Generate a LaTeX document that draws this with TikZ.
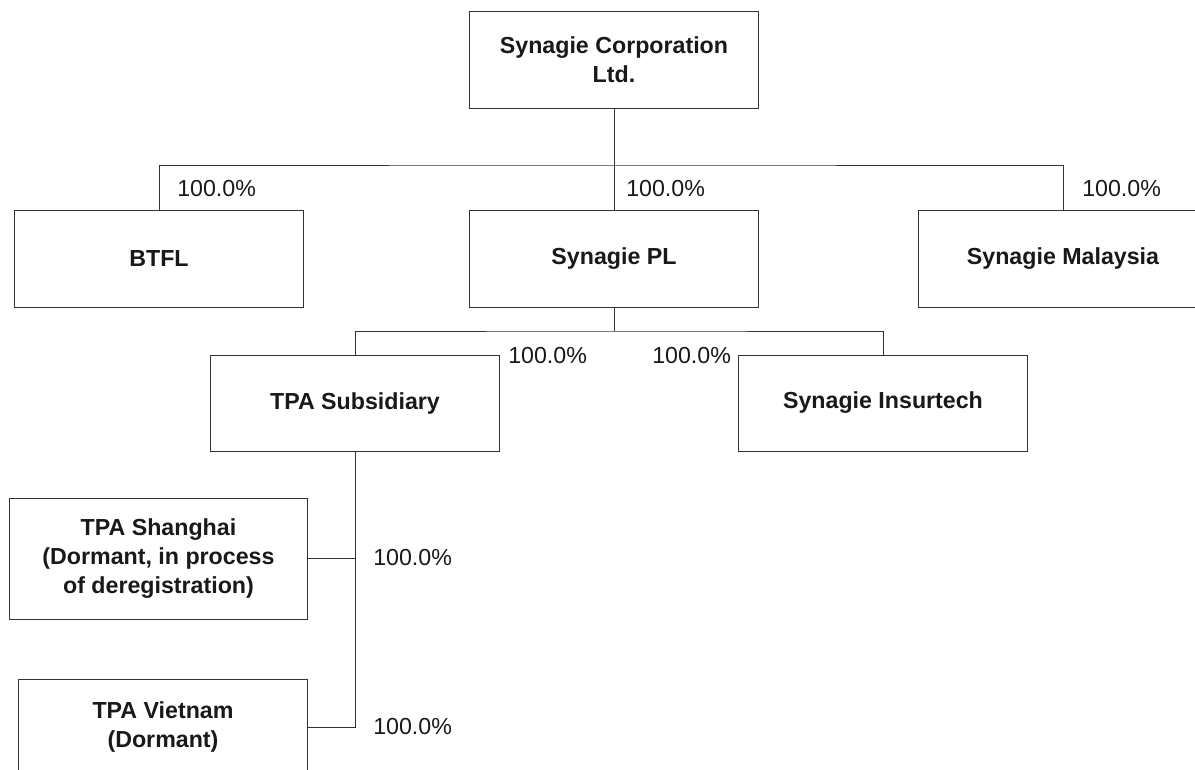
\documentclass[tikz,border=0pt]{standalone}
\usepackage{fontspec}
\setmainfont{Liberation Sans}
\begin{document}
\begin{tikzpicture}
		[	x=0.025cm,y=-0.025cm,
		entity/.style={rectangle,draw=black!80,line width=0.7pt,fill=white,align=center,inner sep=0pt,outer sep=0pt,
			minimum width=7.2cm,minimum height=2.4cm,font=\fontsize{16.5}{20.6}\selectfont\bfseries,text=black!90},
		share/.style={draw=none,fill=none,anchor=west,inner sep=0pt,font=\fontsize{16.5}{20.6}\selectfont,text=black!90},
		link/.style={draw=black!80,line width=0.7pt},
		]
		\useasboundingbox (0,0) rectangle (1195,769);
		\clip (0,0) rectangle (1195,769);

		\node[entity,name=corp] at (614,60) {Synagie Corporation\\Ltd.};
		\node[entity,name=btfl] at (159,259) {BTFL};
		\node[entity,name=pl] at (614,259) {Synagie PL};
		\node[entity,name=malay] at (1063,259) {Synagie Malaysia};
		\node[entity,name=tpa] at (355,403) {TPA Subsidiary};
		\node[entity,name=insur] at (883,403) {Synagie Insurtech};
		\node[entity,name=shanghai,minimum width=7.425cm,minimum height=3.025cm] at (158.5,558.5) {TPA Shanghai\\(Dormant, in process\\of deregistration)};
		\node[entity,name=vietnam] at (163,727) {TPA Vietnam\\(Dormant)};

		\coordinate (bus1) at (614,165);
		\coordinate (bus2) at (614,331);

		\draw[link] (corp) -- (bus1);
		\draw[link] (btfl.north) |- (bus1) -| (malay.north);
		\draw[link] (bus1) -- (pl);
		\draw[link] (pl) -- (bus2);
		\draw[link] (tpa.north) |- (bus2) -| (insur.north);
		\draw[link] (tpa.south) |- (vietnam.east);
		\draw[link] (shanghai.east) -- (shanghai.east -| tpa.south);

		\node[share] at (177,189) {100.0\%};
		\node[share] at (626,189) {100.0\%};
		\node[share] at (1082,189) {100.0\%};
		\node[share] at (508,356) {100.0\%};
		\node[share] at (652,356) {100.0\%};
		\node[share] at (373,558) {100.0\%};
		\node[share] at (373,727) {100.0\%};
	\end{tikzpicture}
\end{document}
